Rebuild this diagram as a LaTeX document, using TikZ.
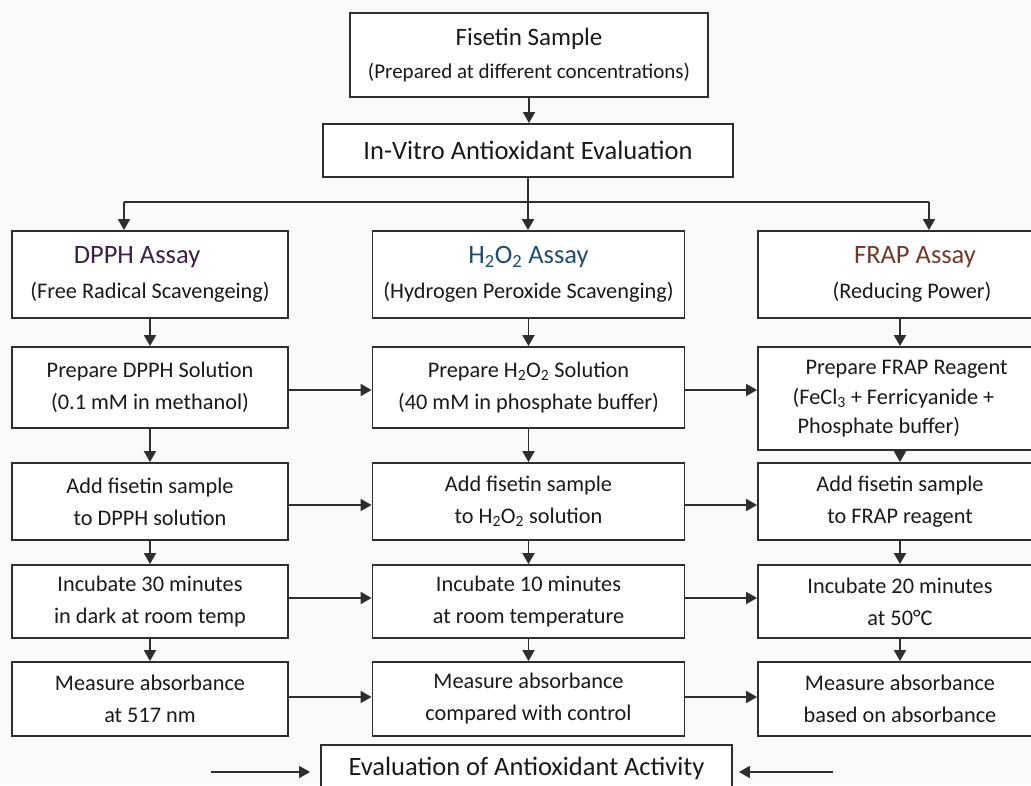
\documentclass[tikz,border=0pt]{standalone}
\usepackage{fontspec}
\setmainfont{Carlito}
\usetikzlibrary{arrows.meta}
\definecolor{dpphc}{HTML}{3B2148}
\definecolor{hooc}{HTML}{1F4D6E}
\definecolor{frapc}{HTML}{6E3B2C}
\definecolor{linec}{HTML}{2E2E2E}
\definecolor{bgc}{HTML}{FAFAFA}
\definecolor{txtc}{HTML}{1A1A1A}
\newcommand\mybody{\fontsize{22.3}{32}\selectfont}
\newcommand\mytitle{\fontsize{26.5}{32}\selectfont}
\begin{document}
\begin{tikzpicture}[x=1pt,y=-1pt,
  box/.style={draw=linec, line width=1.8pt, fill=white, inner sep=0pt, align=center, font=\mybody, text=txtc},
  arr/.style={draw=linec, line width=1.8pt, -{Triangle[length=11pt,width=12pt]}},
  thinarr/.style={draw=linec, line width=1.4pt, -{Triangle[length=11pt,width=12pt]}},
  ln/.style={draw=linec, line width=1.8pt},
  lw/.style={minimum width=276pt},
  mw/.style={minimum width=312pt},
  rw/.style={minimum width=284pt},
]
\useasboundingbox (0,0) rectangle (1031,785);
\fill[bgc] (0,0) rectangle (1031,785);
\clip (0,0) rectangle (1031,785);

% top
\node[box, minimum width=358pt, minimum height=84pt] (fis) at (529,55)
  {{\fontsize{25}{32}\selectfont Fisetin Sample}\\[1pt]{\fontsize{21}{32}\selectfont(Prepared at different concentrations)}};
\node[box, minimum width=410pt, minimum height=53pt] (vitro) at (528,150.5)
  {\mytitle In-Vitro Antioxidant Evaluation};

% row 1
\node[box, lw, minimum height=87pt] (dpph) at (150,274.5)
  {{\mytitle\color{dpphc}DPPH Assay}\hspace*{26pt}\\[3pt](Free Radical Scavengeing)};
\node[box, mw, minimum height=87pt] (hoo) at (528.5,274.5)
  {{\mytitle\color{hooc}H\textsubscript{2}O\textsubscript{2} Assay}\\[3pt](Hydrogen Peroxide Scavenging)};
\node[box, rw, minimum height=87pt] (frap) at (900,274.5)
  {\hspace*{30pt}{\mytitle\color{frapc}FRAP Assay}\\[3pt]\hspace*{24pt}(Reducing Power)};

% row 2
\node[box, lw, minimum height=81pt] (dpph2) at (150,387.5)
  {Prepare DPPH Solution\\(0.1 mM in methanol)};
\node[box, mw, minimum height=81pt] (hoo2) at (528.5,387.5)
  {Prepare H\textsubscript{2}O\textsubscript{2} Solution\\(40 mM in phosphate buffer)};
\node[box, rw, minimum height=103pt, align=left] (frap2) at (900,398.5)
  {\hspace*{13pt}Prepare FRAP Reagent\\[-2pt](FeCl\textsubscript{3} + Ferricyanide +\\[-3pt]\hspace*{5pt}Phosphate buffer)};

% row 3
\node[box, lw, minimum height=77pt] (dpph3) at (150,501.5)
  {Add fisetin sample\\to DPPH solution};
\node[box, mw, minimum height=77pt] (hoo3) at (528.5,501.5)
  {Add fisetin sample\\to H\textsubscript{2}O\textsubscript{2} solution};
\node[box, rw, minimum height=77pt] (frap3) at (900,501.5)
  {Add fisetin sample\\to FRAP reagent};

% row 4
\node[box, lw, minimum height=73pt] (dpph4) at (150,601.5)
  {Incubate 30 minutes\\in dark at room temp};
\node[box, mw, minimum height=73pt] (hoo4) at (528.5,601.5)
  {Incubate 10 minutes\\at room temperature};
\node[box, rw, minimum height=73pt] (frap4) at (900,601.5)
  {Incubate 20 minutes\\at 50°C};

% row 5
\node[box, lw, minimum height=74pt] (dpph5) at (150,699)
  {Measure absorbance\\at 517 nm};
\node[box, mw, minimum height=74pt] (hoo5) at (528.5,699)
  {Measure absorbance\\compared with control};
\node[box, rw, minimum height=74pt] (frap5) at (900,699)
  {Measure absorbance\\based on absorbance};

% bottom
\node[box, minimum width=411pt, minimum height=46pt] (eval) at (526.5,768)
  {\mytitle Evaluation of Antioxidant Activity};

% top connectors
\draw[arr] (fis.south) -- (fis.south |- vitro.north);
\coordinate (split) at (528,202);
\coordinate (sl) at (124,202);
\coordinate (sr) at (929,202);
\draw[ln] (vitro.south) -- (split);
\draw[ln] (sl) -- (sr);
\draw[arr] (sl) -- (sl |- dpph.north);
\draw[arr] (split) -- (split |- hoo.north);
\draw[arr] (sr) -- (sr |- frap.north);

% vertical connectors
\foreach \a/\b in {dpph/dpph2,dpph2/dpph3,dpph3/dpph4,dpph4/dpph5,
                   hoo/hoo2,hoo2/hoo3,hoo3/hoo4,hoo4/hoo5,
                   frap/frap2,frap2/frap3,frap3/frap4,frap4/frap5}
  \draw[arr] (\a.south) -- (\b.north);

% horizontal connectors
\foreach \r/\s in {2/-2.5pt,3/-3.5pt,4/3.5pt,5/2pt}{
  \draw[arr] ([yshift=\s]dpph\r.east) -- ([yshift=\s]dpph\r.east -| hoo\r.west);
  \draw[arr] ([yshift=\s]hoo\r.east) -- ([yshift=\s]hoo\r.east -| frap\r.west);
}

% bottom arrows
\coordinate (bl) at (211,772);
\coordinate (br) at (833,772);
\draw[thinarr, shorten >=10pt] (bl) -- (bl -| eval.west);
\draw[thinarr, shorten >=6pt] (br) -- (br -| eval.east);
\end{tikzpicture}
\end{document}
